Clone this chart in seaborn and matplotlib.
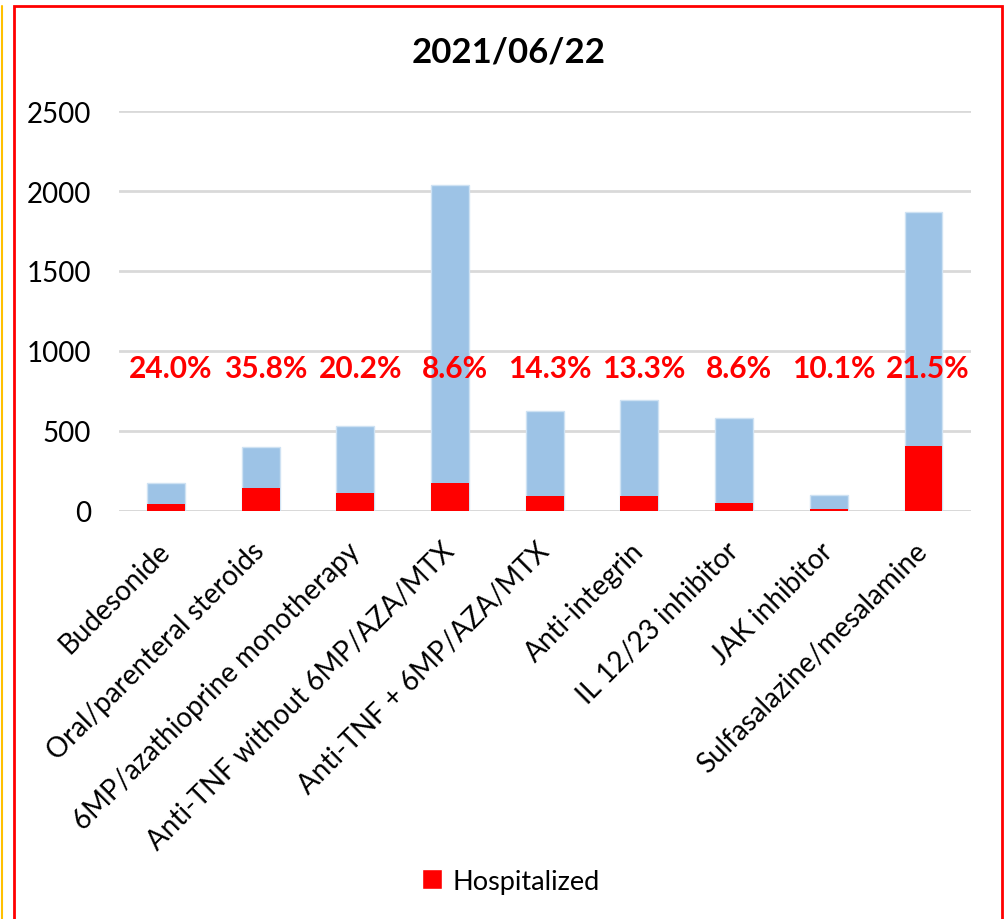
import matplotlib
matplotlib.use("Agg")
import matplotlib.pyplot as plt
import seaborn as sns
import pandas as pd
from matplotlib.patches import Rectangle, Patch
from matplotlib.lines import Line2D

categories = [
    "Budesonide",
    "Oral/parenteral steroids",
    "6MP/azathioprine monotherapy",
    "Anti-TNF without 6MP/AZA/MTX",
    "Anti-TNF + 6MP/AZA/MTX",
    "Anti-integrin",
    "IL 12/23 inhibitor",
    "JAK inhibitor",
    "Sulfasalazine/mesalamine",
]
total = [171, 397, 532, 2039, 620, 690, 582, 97, 1867]
hospitalized = [41, 142, 107, 175, 88, 92, 50, 10, 401]
pct_labels = ["24.0%", "35.8%", "20.2%", "8.6%", "14.3%", "13.3%", "8.6%", "10.1%", "21.5%"]

df = pd.DataFrame({"Medication": categories, "Total": total, "Hospitalized": hospitalized})

sns.set_style("white")
plt.rcParams["font.family"] = ["Lato", "DejaVu Sans"]
plt.rcParams["text.color"] = "black"
plt.rcParams["xtick.color"] = "black"
plt.rcParams["ytick.color"] = "black"

fig = plt.figure(figsize=(10.06, 9.2), dpi=100)
ax = fig.add_axes([0.118, 0.444, 0.847, 0.434])

sns.barplot(data=df, x="Medication", y="Total", color="#9dc3e6", width=0.4,
            saturation=1, edgecolor="#cfe2f3", linewidth=1, ax=ax)
sns.barplot(data=df, x="Medication", y="Hospitalized", color="#ff0000", width=0.4,
            saturation=1, linewidth=0, ax=ax)

ax.set_ylim(0, 2500)
ax.set_xlim(-0.5, len(categories) - 0.5)
ax.set_yticks(range(0, 2501, 500))
ax.yaxis.grid(True, color="#d9d9d9", linewidth=2)
ax.set_axisbelow(True)
for s in ax.spines.values():
    s.set_visible(False)
ax.axhline(0, color="#d9d9d9", linewidth=2, zorder=0.5)
ax.set_xlabel("")
ax.set_ylabel("")
ax.tick_params(axis="both", length=0, labelsize=20, labelcolor="black")
ax.tick_params(axis="x", pad=26)
ax.tick_params(axis="y", pad=20)
plt.setp(ax.get_xticklabels(), rotation=45, ha="right", va="center",
         rotation_mode="anchor")

for i, lab in enumerate(pct_labels):
    ax.text(i + 0.05, 890, lab, color="#ff0000", fontsize=21.5, fontweight="bold",
            ha="center", va="center")

fig.text(0.506, 1 - 52 / 920, "2021/06/22", fontsize=25, fontweight="bold",
         color="black", ha="center", va="center")

fig.legend(handles=[Patch(facecolor="#ff0000", label="Hospitalized")],
           loc="center", bbox_to_anchor=(0.508, 0.041), frameon=False,
           fontsize=19.5, handlelength=0.75, handleheight=0.75, handletextpad=0.4)

fig.patches.append(Rectangle((14 / 1006, -0.01), 988 / 1006, 1 - 7 / 920 + 0.01,
                             transform=fig.transFigure, fill=False,
                             edgecolor="#ff0000", linewidth=2))
fig.lines.append(Line2D([2 / 1006, 2 / 1006], [0, 1 - 7 / 920], transform=fig.transFigure,
                        color="#ffc000", linewidth=1.5))

fig.savefig("out.png", dpi=100)
